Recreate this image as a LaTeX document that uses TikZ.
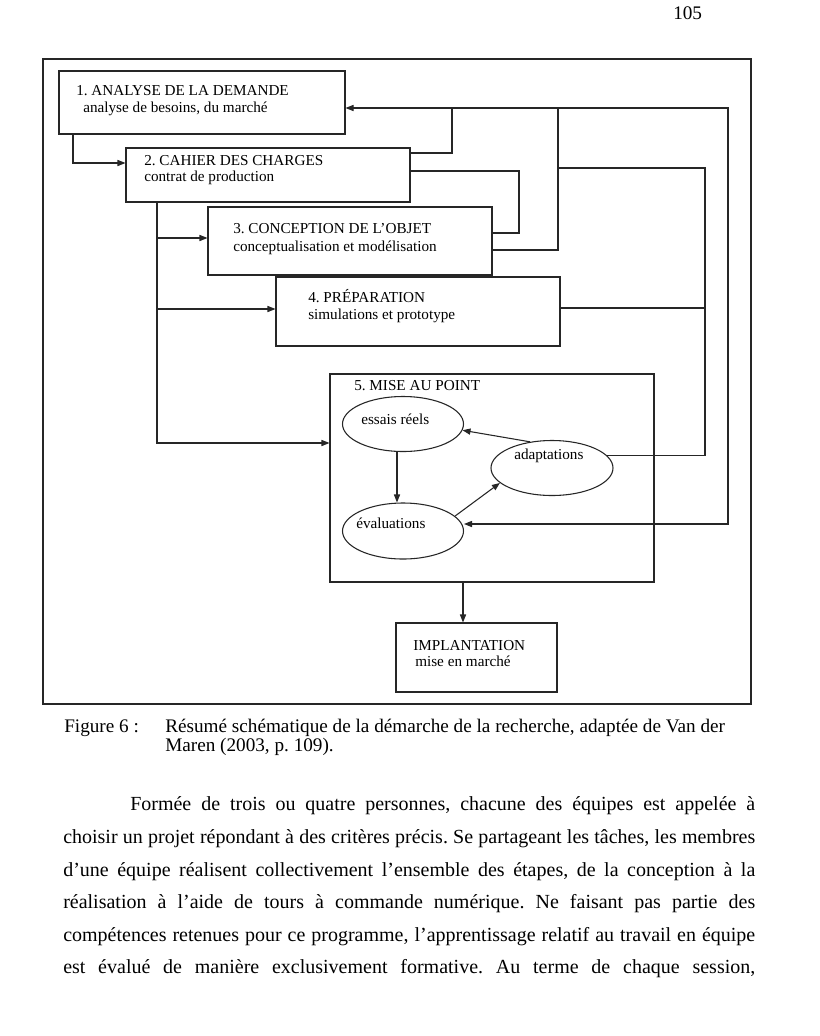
\documentclass[tikz,border=0pt]{standalone}
\usepackage{fontspec}
\setmainfont{Liberation Serif}
\usetikzlibrary{arrows.meta,shapes.geometric,fit,calc}
\begin{document}
\frenchspacing
\begin{tikzpicture}[x=0.75pt,y=-0.75pt,
  ln/.style={line width=0.8pt, black!85},
  arr/.style={ln, -{Triangle[length=6pt,width=4.6pt]}},
  arrboth/.style={ln, {Triangle[length=6pt,width=4.6pt]}-{Triangle[length=6pt,width=4.6pt]}},
  boxn/.style={draw=black!85, line width=0.8pt, inner sep=0pt},
  ell/.style={ellipse, draw=black!85, line width=0.8pt, inner sep=0pt},
  dt/.style={anchor=base west, inner sep=0pt, font=\fontsize{11.4}{13}\selectfont},
  bt/.style={anchor=base west, inner sep=0pt, font=\fontsize{15}{17}\selectfont},
  ct/.style={anchor=base west, inner sep=0pt, font=\fontsize{14.4}{17}\selectfont},
]
\useasboundingbox (0,0) rectangle (820,1036);
\fill[white] (0,0) rectangle (820,1036);

% page number
\node[ct] (pg) at (673,19) {105};

% outer frame
\node[boxn, line width=1pt, fit={(43,59)(751,704)}] (frame) {};

% boxes
\node[boxn, fit={(59,71)(345,134)}] (b1) {};
\node[boxn, fit={(126,148)(410,202)}] (b2) {};
\node[boxn, fit={(208,207)(492,275)}] (b3) {};
\node[boxn, fit={(276,277)(560,346)}] (b4) {};
\node[boxn, fit={(330,374)(654,582)}] (b5) {};
\node[boxn, fit={(396,623)(557,692)}] (b6) {};

% box texts
\node[dt] (t1a) at (76,95) {1. ANALYSE DE LA DEMANDE};
\node[dt] (t1b) at (83,112) {analyse de besoins, du marché};
\node[dt] (t2a) at (144,165) {2. CAHIER DES CHARGES};
\node[dt] (t2b) at (144,181) {contrat de production};
\node[dt] (t3a) at (233,233) {3. CONCEPTION DE L’OBJET};
\node[dt] (t3b) at (233,251) {conceptualisation et modélisation};
\node[dt] (t4a) at (308,302) {4. PRÉPARATION};
\node[dt] (t4b) at (308,319) {simulations et prototype};
\node[dt] (t5) at (354,390) {5. MISE AU POINT};
\node[dt] (t6a) at (413,650) {IMPLANTATION};
\node[dt] (t6b) at (415,666) {mise en marché};

% ellipses
\node[ell, minimum width=90.75pt, minimum height=41.25pt] (e1) at (403,424) {};
\node[ell, minimum width=91.5pt, minimum height=41.25pt] (e2) at (552,468) {};
\node[ell, minimum width=90.75pt, minimum height=42pt] (e3) at (403,531) {};
\node[dt] (te1) at (361,424) {essais réels};
\node[dt] (te2) at (514,459) {adaptations};
\node[dt] (te3) at (356,528) {évaluations};

% helper coordinates
\coordinate (c12) at (73,163);
\coordinate (j3) at (157,238);
\coordinate (j4) at (157,309);
\coordinate (j5) at (157,443);
\coordinate (r1) at (728,108);
\coordinate (r2) at (728,524);
\coordinate (q2) at (452,153);
\coordinate (q23a) at (519,171);
\coordinate (q23b) at (519,233);
\coordinate (q3) at (558,250);
\coordinate (s2) at (705,168);
\coordinate (p4) at (705,308);
\coordinate (c56) at (463,600);

% left side flow
\draw[arr] (b1.south -| c12) |- (b2.west |- c12);
\draw[arr] (b2.south -| j5) |- (b5.west |- j5);
\draw[arr] (j3) -- (b3.west |- j3);
\draw[arr] (j4) -- (b4.west |- j4);

% feedback network to box 1 and evaluations
\draw[arrboth] (b1.east |- r1) -- (r1) -- (r2) -- (e3.east |- r2);
\draw[ln] (b2.east |- q2) -- (q2) -- (q2 |- r1);
\draw[ln] (b2.east |- q23a) -- (q23a) -- (q23b) -- (b3.east |- q23b);
\draw[ln] (b3.east |- q3) -- (q3) -- (q3 |- r1);
\draw[ln] (e2.13.5) -- (e2.13.5 -| s2) -- (s2) -- (q3 |- s2);
\draw[ln] (b4.east |- p4) -- (p4);

% inside mise au point
\draw[arr] ($(e1.south)+(-6,0)$) -- ($(e3.north)+(-6,0)$);
\draw[arr] (e3.16) -- (e2.196);
\draw[arr] (e2.130) -- (e1.-6);

% to implantation
\draw[arr] (b5.south -| c56) -- (b6.north -| c56);

% caption
\node[ct] (fig) at (64,732) {Figure 6 :};
\node[ct] (cap1) at (165,732) {Résumé schématique de la démarche de la recherche, adaptée de Van der};
\node[ct] (cap2) at (165,751) {Maren (2003, p. 109).};

% body text
\node[bt] (l1) at (130,810) {\makebox[468.75pt][s]{Formée de trois ou quatre personnes, chacune des équipes est appelée à}};
\node[bt] (l2) at (63,843) {\makebox[519pt][s]{choisir un projet répondant à des critères précis. Se partageant les tâches, les membres}};
\node[bt] (l3) at (63,876) {\makebox[519pt][s]{d’une équipe réalisent collectivement l’ensemble des étapes, de la conception à la}};
\node[bt] (l4) at (63,908) {\makebox[519pt][s]{réalisation à l’aide de tours à commande numérique. Ne faisant pas partie des}};
\node[bt] (l5) at (63,941) {\makebox[519pt][s]{compétences retenues pour ce programme, l’apprentissage relatif au travail en équipe}};
\node[bt] (l6) at (63,973) {\makebox[519pt][s]{est évalué de manière exclusivement formative. Au terme de chaque session,}};
\end{tikzpicture}
\end{document}
